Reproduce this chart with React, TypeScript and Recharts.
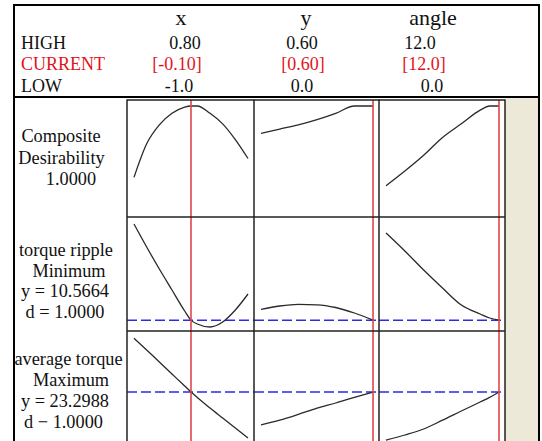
import React from 'react';
import { LineChart, Line, XAxis, YAxis, ReferenceLine } from 'recharts';

// ---------- data ----------
const factorNames = ['x', 'y', 'angle'];
const highLabels = ['0.80', '0.60', '12.0'];
const currentLabels = ['[-0.10]', '[0.60]', '[12.0]'];
const lowLabels = ['-1.0', '0.0', '0.0'];
const currentValues = [-0.1, 0.6, 12];

const xLevels = [-1, -0.8, -0.6, -0.4, -0.2, -0.1, 0, 0.2, 0.4, 0.6, 0.8];
const yLevels = [0, 0.1, 0.2, 0.3, 0.4, 0.5, 0.6];
const angleLevels = [0, 2, 4, 6, 8, 10, 11, 12];

const desirabilityVsX = [0.32, 0.64, 0.82, 0.93, 0.99, 1.0, 1.0, 0.93, 0.83, 0.68, 0.5];
const desirabilityVsY = [0.74, 0.78, 0.82, 0.87, 0.93, 1.0, 1.0];
const desirabilityVsAngle = [0.24, 0.38, 0.53, 0.7, 0.83, 0.96, 1.0, 1.0];

const rippleVsX = [29.8, 25.2, 20.8, 16.6, 12.4, 10.5664, 9.8, 9.2, 10.2, 12.6, 15.8];
const rippleVsY = [12.74, 13.4, 13.72, 13.64, 13.1, 12.0, 10.5664];
const rippleVsAngle = [28.0, 24.4, 20.6, 17.0, 13.6, 11.8, 11.0, 10.5664];

const torqueVsX = [25.99, 25.4, 24.8, 24.2, 23.6, 23.2988, 23.03, 22.5, 22.0, 21.5, 21.0];
const torqueVsY = [21.65, 21.89, 22.18, 22.49, 22.75, 23.03, 23.2988];
const torqueVsAngle = [20.89, 21.15, 21.45, 21.89, 22.35, 22.8, 23.03, 23.2988];

const responseLabels = [
  ['Composite', 'Desirability', '1.0000'],
  ['torque ripple', 'Minimum', 'y = 10.5664', 'd = 1.0000'],
  ['average torque', 'Maximum', 'y = 23.2988', 'd − 1.0000'],
];
const responseTargets: (number | null)[] = [null, 10.5664, 23.2988];

// ---------- layout ----------
const levelsByCol = [xLevels, yLevels, angleLevels];
const valuesGrid = [
  [desirabilityVsX, desirabilityVsY, desirabilityVsAngle],
  [rippleVsX, rippleVsY, rippleVsAngle],
  [torqueVsX, torqueVsY, torqueVsAngle],
];
const COLS = [127, 254, 379, 505];
const ROWS = [100, 217, 331, 446];
const X_DOMAINS: [number, number][] = [
  [-1.1105, 0.8947],
  [-0.0375, 0.632],
  [-0.743, 12.637],
];
const Y_DOMAINS: [number, number][] = [
  [-0.057, 1.057],
  [8.4, 31.2],
  [20.6, 26.35],
];

const FONT = '"Liberation Serif", "Times New Roman", serif';

function Panel({ r, c }: { r: number; c: number }) {
  const left = COLS[c];
  const top = ROWS[r];
  const width = COLS[c + 1] - COLS[c];
  const height = ROWS[r + 1] - ROWS[r];
  const data = levelsByCol[c].map((lv, i) => ({ f: lv, v: valuesGrid[r][c][i] }));
  const target = responseTargets[r];
  return (
    <div style={{ position: 'absolute', left, top, width, height, background: '#fff' }}>
      <LineChart width={width} height={height} data={data} margin={{ top: 0, right: 0, bottom: 0, left: 0 }}>
        <XAxis dataKey="f" type="number" domain={X_DOMAINS[c]} hide allowDataOverflow />
        <YAxis type="number" domain={Y_DOMAINS[r]} hide allowDataOverflow />
        {target !== null && (
          <ReferenceLine y={target} stroke="#2b2be8" strokeWidth={1.5} strokeDasharray="10 4" ifOverflow="visible" />
        )}
        <Line dataKey="v" type="monotone" stroke="#2a2a2a" strokeWidth={1.3} dot={false} isAnimationActive={false} />
        <ReferenceLine x={currentValues[c]} stroke="#e0464b" strokeWidth={1.6} ifOverflow="visible" />
      </LineChart>
    </div>
  );
}

const headerCenters = [181, 306, 433];
const highCenters = [185, 302, 420];
const currentCenters = [177, 303, 424];
const lowCenters = [179, 302, 432];
const labelCenters = [
  [61, 61.5, 71],
  [66, 69, 65, 65],
  [68.5, 71, 65, 63.5],
];
const labelBaselines = [
  [142, 164, 185],
  [256, 277, 297, 318],
  [365, 386, 407, 428],
];

export default function App() {
  const panels = [];
  for (let r = 0; r < 3; r++) for (let c = 0; c < 3; c++) panels.push(<Panel key={`${r}-${c}`} r={r} c={c} />);
  return (
    <div style={{ position: 'fixed', left: 0, top: 0, width: 542, height: 441, background: '#fff', overflow: 'hidden' }}>
      <div style={{ position: 'absolute', left: 505, top: 98, width: 34, height: 350, background: '#ece9d8' }} />
      {panels}
      <svg width={542} height={441} style={{ position: 'absolute', left: 0, top: 0, pointerEvents: 'none' }} fontFamily={FONT}>
        {/* outer frame */}
        <line x1={14} y1={4} x2={14} y2={441} stroke="#000" strokeWidth={2} />
        <line x1={13} y1={5} x2={540} y2={5} stroke="#000" strokeWidth={2} />
        <line x1={539} y1={4} x2={539} y2={441} stroke="#000" strokeWidth={2} />
        <line x1={13} y1={97} x2={540} y2={97} stroke="#000" strokeWidth={2} />
        {/* grid */}
        {COLS.map((x) => (
          <line key={`v${x}`} x1={x} y1={99.5} x2={x} y2={441} stroke="#222" strokeWidth={1.5} />
        ))}
        {ROWS.slice(0, 3).map((y) => (
          <line key={`h${y}`} x1={127} y1={y} x2={505} y2={y} stroke="#222" strokeWidth={1.5} />
        ))}
        {/* header */}
        {factorNames.map((n, i) => (
          <text key={n} x={headerCenters[i]} y={25} fontSize={22} textAnchor="middle" fill="#111">{n}</text>
        ))}
        <text x={21} y={49} fontSize={18} fill="#111">HIGH</text>
        <text x={21} y={70} fontSize={18} fill="#e3131b">CURRENT</text>
        <text x={21} y={92} fontSize={18} fill="#111">LOW</text>
        {highLabels.map((t, i) => (
          <text key={`hi${i}`} x={highCenters[i]} y={49} fontSize={18} textAnchor="middle" fill="#111">{t}</text>
        ))}
        {currentLabels.map((t, i) => (
          <text key={`cu${i}`} x={currentCenters[i]} y={70} fontSize={18} textAnchor="middle" fill="#e3131b">{t}</text>
        ))}
        {lowLabels.map((t, i) => (
          <text key={`lo${i}`} x={lowCenters[i]} y={92} fontSize={18} textAnchor="middle" fill="#111">{t}</text>
        ))}
        {/* response labels */}
        {responseLabels.map((lines, r) =>
          lines.map((t, k) => (
            <text key={`rl${r}-${k}`} x={labelCenters[r][k]} y={labelBaselines[r][k]} fontSize={18.3} textAnchor="middle" fill="#111">{t}</text>
          ))
        )}
      </svg>
    </div>
  );
}
